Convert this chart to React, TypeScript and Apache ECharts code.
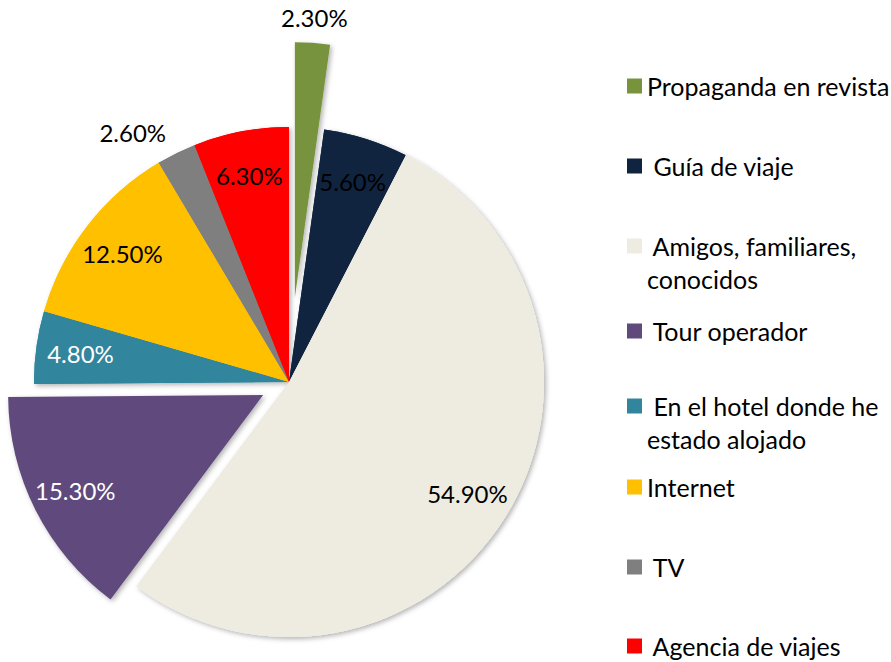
import React, { useEffect, useRef } from 'react';
import * as echarts from 'echarts';

const categories = [
  'Propaganda en revista',
  'Guía de viaje',
  'Amigos, familiares, conocidos',
  'Tour operador',
  'En el hotel donde he estado alojado',
  'Internet',
  'TV',
  'Agencia de viajes',
];
const values = [2.3, 5.6, 54.9, 15.3, 4.8, 12.5, 2.6, 6.3];
const legendLabels = [
  'Propaganda en revista',
  ' Guía de viaje',
  ' Amigos, familiares,\nconocidos',
  ' Tour operador',
  ' En el hotel donde he\nestado alojado',
  'Internet',
  ' TV',
  ' Agencia de viajes',
];
const colors = ['#77933C', '#10243F', '#EEECE1', '#604A7B', '#31859C', '#FFC000', '#7F7F7F', '#FF0000'];
const labelColors = ['#000', '#000', '#000', '#fff', '#fff', '#000', '#000', '#000'];

// layout / style constants
const explode = [85, 0, 0, 29, 0, 0, 0, 0];
const outsideLabel = [false, false, false, false, false, false, true, false];
const legendIconY = [86, 166, 246, 331, 406, 487, 567, 646];
const C0 = [289, 382];
const R = 255;
const FONT = 'Lato, "Open Sans", sans-serif';
const FS_LABEL = 24;
const FS_LEGEND = 25;
const LH = 33;
const LH_SINGLE = 26;
const TRANSPARENT = 'rgba(0,0,0,0)';
const SHADOW = {
  shadowBlur: 5,
  shadowOffsetX: 2,
  shadowOffsetY: 2,
  shadowColor: 'rgba(0,0,0,0.3)',
};

const fmt = (p: any) => Number(p.value).toFixed(2) + '%';

function App() {
  const ref = useRef<HTMLDivElement>(null);
  useEffect(() => {
    if (!ref.current) return;
    const chart = echarts.init(ref.current, null, { renderer: 'svg' });
    const total = values.reduce((a, b) => a + b, 0);
    let cum = 0;
    const mids = values.map((v) => {
      const m = ((cum + v / 2) / total) * Math.PI * 2;
      cum += v;
      return m;
    });
    const centerFor = (i: number) => [
      C0[0] + Math.sin(mids[i]) * explode[i],
      C0[1] - Math.cos(mids[i]) * explode[i],
    ];
    const mkData = (
      visible: (i: number) => boolean,
      label: (i: number) => any,
      shadow = false
    ) =>
      categories.map((name, i) => ({
        name,
        value: values[i],
        itemStyle: visible(i)
          ? { color: colors[i], ...(shadow ? SHADOW : {}) }
          : { color: TRANSPARENT },
        label: label(i),
        labelLine: { show: false, length: 23, length2: 0 },
      }));
    const base = {
      type: 'pie',
      startAngle: 90,
      clockwise: true,
      silent: true,
      avoidLabelOverlap: false,
      emphasis: { disabled: true },
      labelLine: { show: false },
    };
    const labelStyle = (i: number, position: string) => ({
      show: true,
      position,
      formatter: fmt,
      color: labelColors[i],
      fontFamily: FONT,
      fontSize: FS_LABEL,
      distanceToLabelLine: 0,
    });
    const noLabel = () => ({ show: false });

    const series: any[] = [];
    // shadow underlay of the main pie
    series.push({
      ...base,
      center: C0,
      radius: [0, R],
      data: mkData((i) => explode[i] === 0, noLabel, true),
    });
    // main pie
    series.push({
      ...base,
      center: C0,
      radius: [0, R],
      data: mkData((i) => explode[i] === 0, noLabel),
    });
    // exploded slices
    explode.forEach((off, i) => {
      if (off > 0) {
        series.push({
          ...base,
          center: centerFor(i),
          radius: [0, R],
          data: mkData((j) => j === i, noLabel, true),
        });
      }
    });
    // labels on main pie
    series.push({
      ...base,
      center: C0,
      radius: [160, R],
      data: mkData(
        () => false,
        (i) => (explode[i] === 0 ? labelStyle(i, outsideLabel[i] ? 'outside' : 'inside') : { show: false })
      ),
    });
    // labels of exploded slices
    explode.forEach((off, i) => {
      if (off > 0) {
        const outer = off > 50;
        series.push({
          ...base,
          center: centerFor(i),
          radius: outer ? [R, R + 45] : [160, R],
          data: mkData(
            () => false,
            (j) => (j === i ? labelStyle(j, 'inside') : { show: false })
          ),
        });
      }
    });

    const legend = categories.map((name, i) => {
      const twoLine = legendLabels[i].includes('\n');
      return {
        data: [{ name, itemStyle: { color: colors[i] } }],
        // a leading blank line keeps the first text line level with the marker
        formatter: () => (twoLine ? '\n' : '') + legendLabels[i],
        orient: 'vertical',
        left: 627,
        top: legendIconY[i] - (twoLine ? LH * 1.5 : LH_SINGLE / 2),
        padding: 0,
        itemWidth: 15,
        itemHeight: 15,
        icon: 'rect',
        selectedMode: false,
        textStyle: {
          fontFamily: FONT,
          fontSize: FS_LEGEND,
          color: '#000',
          lineHeight: twoLine ? LH : LH_SINGLE,
        },
      };
    });

    chart.setOption({
      animation: false,
      backgroundColor: '#fff',
      legend,
      series,
    });
    return () => chart.dispose();
  }, []);
  return (
    <div
      ref={ref}
      style={{ position: 'fixed', left: 0, top: 0, width: 891, height: 662 }}
    />
  );
}

export default App;
